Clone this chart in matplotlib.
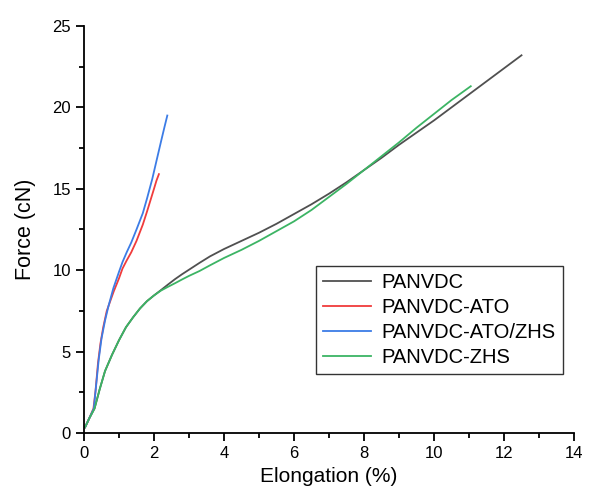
import matplotlib
matplotlib.use('Agg')
import matplotlib.pyplot as plt
from matplotlib.ticker import MultipleLocator

plt.rcParams['font.family'] = ['Liberation Sans', 'DejaVu Sans']

# PANVDC
x_pan = [0.03, 0.15, 0.3, 0.45, 0.6, 0.8, 1.0, 1.2, 1.4, 1.6, 1.8, 2.0, 2.2, 2.4, 2.6, 2.8,
         3.0, 3.3, 3.6, 4.0, 4.5, 5.0, 5.5, 6.0, 6.5, 7.0, 7.5, 8.0, 8.5, 9.0, 9.5, 10.0,
         10.5, 11.0, 11.5, 12.0, 12.5]
y_pan = [0.35, 0.9, 1.5, 2.7, 3.8, 4.8, 5.7, 6.5, 7.1, 7.65, 8.1, 8.45, 8.78, 9.12, 9.45, 9.75,
         10.03, 10.45, 10.85, 11.3, 11.8, 12.3, 12.85, 13.45, 14.05, 14.7, 15.4, 16.15, 16.9,
         17.7, 18.45, 19.2, 20.0, 20.8, 21.6, 22.4, 23.2]
# PANVDC-ATO
x_ato = [0.03, 0.15, 0.27, 0.33, 0.4, 0.47, 0.55, 0.65, 0.75, 0.85, 1.0, 1.1, 1.22, 1.35,
         1.5, 1.68, 1.8, 1.9, 2.0, 2.07, 2.14]
y_ato = [0.35, 0.9, 1.5, 2.6, 4.3, 5.5, 6.5, 7.5, 8.1, 8.7, 9.5, 10.1, 10.6, 11.1,
         11.8, 12.8, 13.6, 14.3, 15.0, 15.5, 15.9]
# PANVDC-ATO/ZHS
x_atozhs = [0.03, 0.15, 0.28, 0.35, 0.42, 0.5, 0.6, 0.7, 0.84, 1.0, 1.1, 1.22, 1.35, 1.5,
            1.68, 1.8, 1.95, 2.08, 2.2, 2.3, 2.38]
y_atozhs = [0.35, 0.9, 1.5, 3.0, 4.5, 5.8, 6.9, 7.8, 8.9, 9.9, 10.5, 11.1, 11.7, 12.5,
            13.5, 14.4, 15.6, 16.8, 17.9, 18.8, 19.5]
# PANVDC-ZHS
x_zhs = [0.03, 0.15, 0.3, 0.45, 0.6, 0.8, 1.0, 1.2, 1.4, 1.6, 1.8, 2.0, 2.2, 2.4, 2.6, 2.8,
         3.0, 3.3, 3.6, 4.0, 4.5, 5.0, 5.5, 6.0, 6.5, 7.0, 7.5, 8.0, 8.5, 9.0, 9.5, 10.0,
         10.5, 11.05]
y_zhs = [0.35, 0.9, 1.5, 2.7, 3.8, 4.8, 5.7, 6.5, 7.1, 7.65, 8.1, 8.45, 8.75, 8.98, 9.2, 9.43,
         9.65, 9.95, 10.3, 10.75, 11.25, 11.8, 12.4, 13.0, 13.7, 14.5, 15.3, 16.15, 17.0,
         17.85, 18.75, 19.6, 20.45, 21.3]

fig = plt.figure(figsize=(5.97, 4.96), dpi=100)
ax = fig.add_axes([0.1407, 0.127, 0.8208, 0.8206])

ax.plot(x_pan, y_pan, color='#505050', lw=1.3, label='PANVDC')
ax.plot(x_ato, y_ato, color='#f03c3c', lw=1.3, label='PANVDC-ATO')
ax.plot(x_atozhs, y_atozhs, color='#3c7ce6', lw=1.3, label='PANVDC-ATO/ZHS')
ax.plot(x_zhs, y_zhs, color='#3cb464', lw=1.3, label='PANVDC-ZHS')

ax.set_xlim(0, 14)
ax.set_ylim(0, 25)
ax.xaxis.set_major_locator(MultipleLocator(2))
ax.xaxis.set_minor_locator(MultipleLocator(1))
ax.yaxis.set_major_locator(MultipleLocator(5))
ax.yaxis.set_minor_locator(MultipleLocator(2.5))
ax.spines['top'].set_visible(False)
ax.spines['right'].set_visible(False)
for s in ('left', 'bottom'):
    ax.spines[s].set_linewidth(1.3)
ax.tick_params(which='major', direction='out', length=6, width=1.3, labelsize=12)
ax.tick_params(which='minor', direction='out', length=3.5, width=1.3)

ax.set_xlabel('Elongation (%)', fontsize=15)
ax.set_ylabel('Force (cN)', fontsize=15.5, labelpad=12)

leg = ax.legend(loc='lower left', bbox_to_anchor=(0.453, 0.12), fontsize=14.5,
                frameon=True, fancybox=False, edgecolor='black', handlelength=2.4,
                handletextpad=0.5, labelspacing=0.3, borderpad=0.35)
leg.get_frame().set_linewidth(1.0)

fig.savefig('out.png', dpi=100)
